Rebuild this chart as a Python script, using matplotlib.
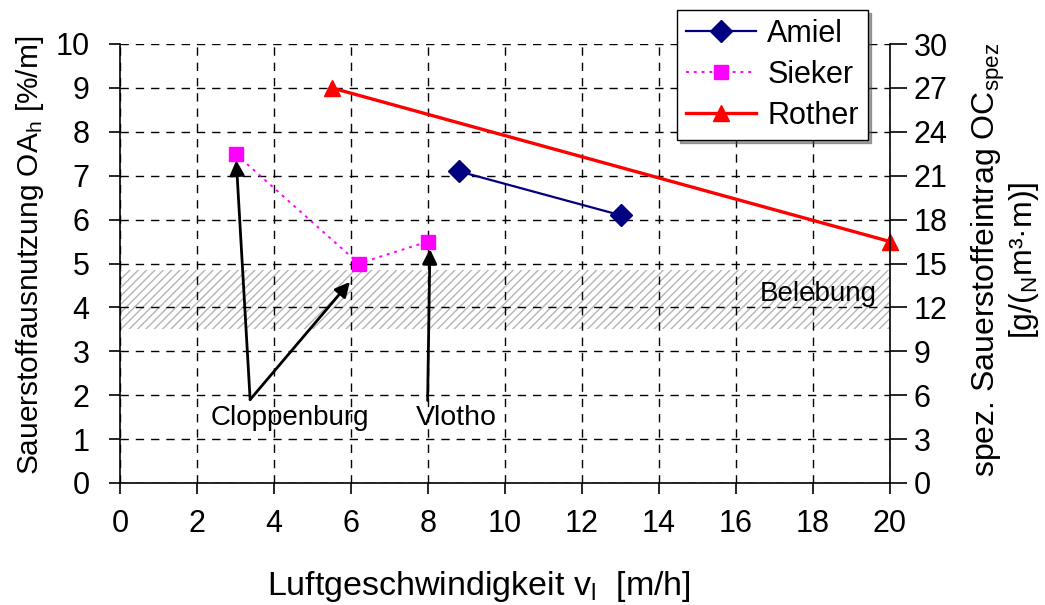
import matplotlib
matplotlib.use('Agg')
import matplotlib.pyplot as plt
import numpy as np

plt.rcParams['font.family'] = ['Liberation Sans', 'DejaVu Sans']
plt.rcParams['mathtext.fontset'] = 'custom'
plt.rcParams['mathtext.rm'] = 'Liberation Sans'
plt.rcParams['mathtext.it'] = 'Liberation Sans:italic'
plt.rcParams['hatch.linewidth'] = 1.0
plt.rcParams['hatch.color'] = '#b4b4b4'

# measurement series: air velocity [m/h] vs. oxygen utilisation [%/m]
amiel_v = [8.8, 13.0]
amiel_oa = [7.1, 6.1]
sieker_v = [3.0, 6.2, 8.0]
sieker_oa = [7.5, 5.0, 5.5]
rother_v = [5.5, 20.0]
rother_oa = [9.0, 5.5]

# typical range for activated sludge tanks
belebung_range = (3.5, 4.85)

x_ticks = np.arange(0, 21, 2)
y_ticks = np.arange(0, 11, 1)
y2_ticks = np.arange(0, 31, 3)

fs = 20
tick_fs = 22

fig = plt.figure(figsize=(10.45, 6.05), dpi=100, facecolor='w')
ax = fig.add_axes([120 / 1045, 1 - 483 / 605, 770 / 1045, 439 / 605])
ax2 = ax.twinx()

ax.axhspan(*belebung_range, facecolor='white', edgecolor='#b4b4b4',
           hatch='////', linewidth=0, zorder=1)
ax.text(19.65, 4.3, 'Belebung', fontsize=fs, ha='right', va='center', zorder=3)

l1, = ax.plot(amiel_v, amiel_oa, color='#000080', lw=1.6, marker='D',
              markersize=11, label='Amiel', zorder=4, clip_on=False)
l2, = ax.plot(sieker_v, sieker_oa, color='#ff00ff', lw=1.4, ls=(0, (1.5, 2.5)),
              marker='s', markersize=9.5, label='Sieker', zorder=4,
              clip_on=False)
l3, = ax.plot(rother_v, rother_oa, color='#ff0000', lw=2.4, marker='^',
              markersize=12, label='Rother', zorder=4, clip_on=False)

# annotations for the plant names
arrow = dict(arrowstyle='-|>', color='k', lw=2, mutation_scale=22,
             shrinkA=0, shrinkB=0)
ax.annotate('', xy=(3.02, 7.35), xytext=(3.38, 1.9), arrowprops=arrow)
ax.annotate('', xy=(5.97, 4.58), xytext=(3.38, 1.9), arrowprops=arrow)
ax.annotate('', xy=(8.05, 5.33), xytext=(7.99, 1.88), arrowprops=arrow)
ax.text(4.4, 1.48, 'Cloppenburg', fontsize=fs, ha='center', va='center')
ax.text(8.75, 1.48, 'Vlotho', fontsize=20.5, ha='center', va='center')

ax.set_xlim(0, 20)
ax.set_ylim(0, 10)
ax2.set_ylim(0, 30)
ax.set_xticks(x_ticks)
ax.set_yticks(y_ticks)
ax2.set_yticks(y2_ticks)

ax.grid(True, color='k', ls=(0, (6, 5)), lw=1.0)

for a in (ax, ax2):
    a.spines['top'].set_visible(False)
ax.spines['right'].set_visible(False)
ax2.spines['left'].set_visible(False)
ax2.spines['bottom'].set_visible(False)
for s in ('left', 'bottom'):
    ax.spines[s].set_linewidth(1.2)
ax2.spines['right'].set_linewidth(1.2)

ax.tick_params(axis='x', direction='out', length=8, width=1.2, pad=11,
               labelsize=tick_fs)
ax.tick_params(axis='y', direction='out', length=8, width=1.2, pad=14,
               labelsize=tick_fs)
ax2.tick_params(axis='y', direction='out', length=12, width=1.2, pad=5,
                labelsize=tick_fs)

fig.text(479 / 1045, 1 - 586 / 605, r'Luftgeschwindigkeit v$_\mathrm{l}$  [m/h]',
         fontsize=24.5, ha='center', va='center')
fig.text(30 / 1045, 1 - 255 / 605, r'Sauerstoffausnutzung OA$_\mathrm{h}$ [%/m]',
         fontsize=21.5, ha='center', va='center', rotation=90)
fig.text(1005 / 1045, 1 - 260 / 605,
         'spez. Sauerstoffeintrag OC$_\\mathrm{spez}$\n[g/($_\\mathrm{N}$m³·m)]',
         fontsize=23, ha='center', va='center', rotation=90,
         multialignment='center', linespacing=1.0)

leg = fig.legend(handles=[l1, l2, l3], loc='upper left',
                 bbox_to_anchor=(677 / 1045, 1 - 10 / 605), fontsize=22,
                 frameon=True, fancybox=False, shadow=True, edgecolor='k',
                 framealpha=1, handlelength=2.3, labelspacing=0.36,
                 borderpad=0.3, handletextpad=0.35, borderaxespad=0)
leg.get_frame().set_linewidth(1.0)

fig.savefig('out.png', dpi=100, facecolor='w')
